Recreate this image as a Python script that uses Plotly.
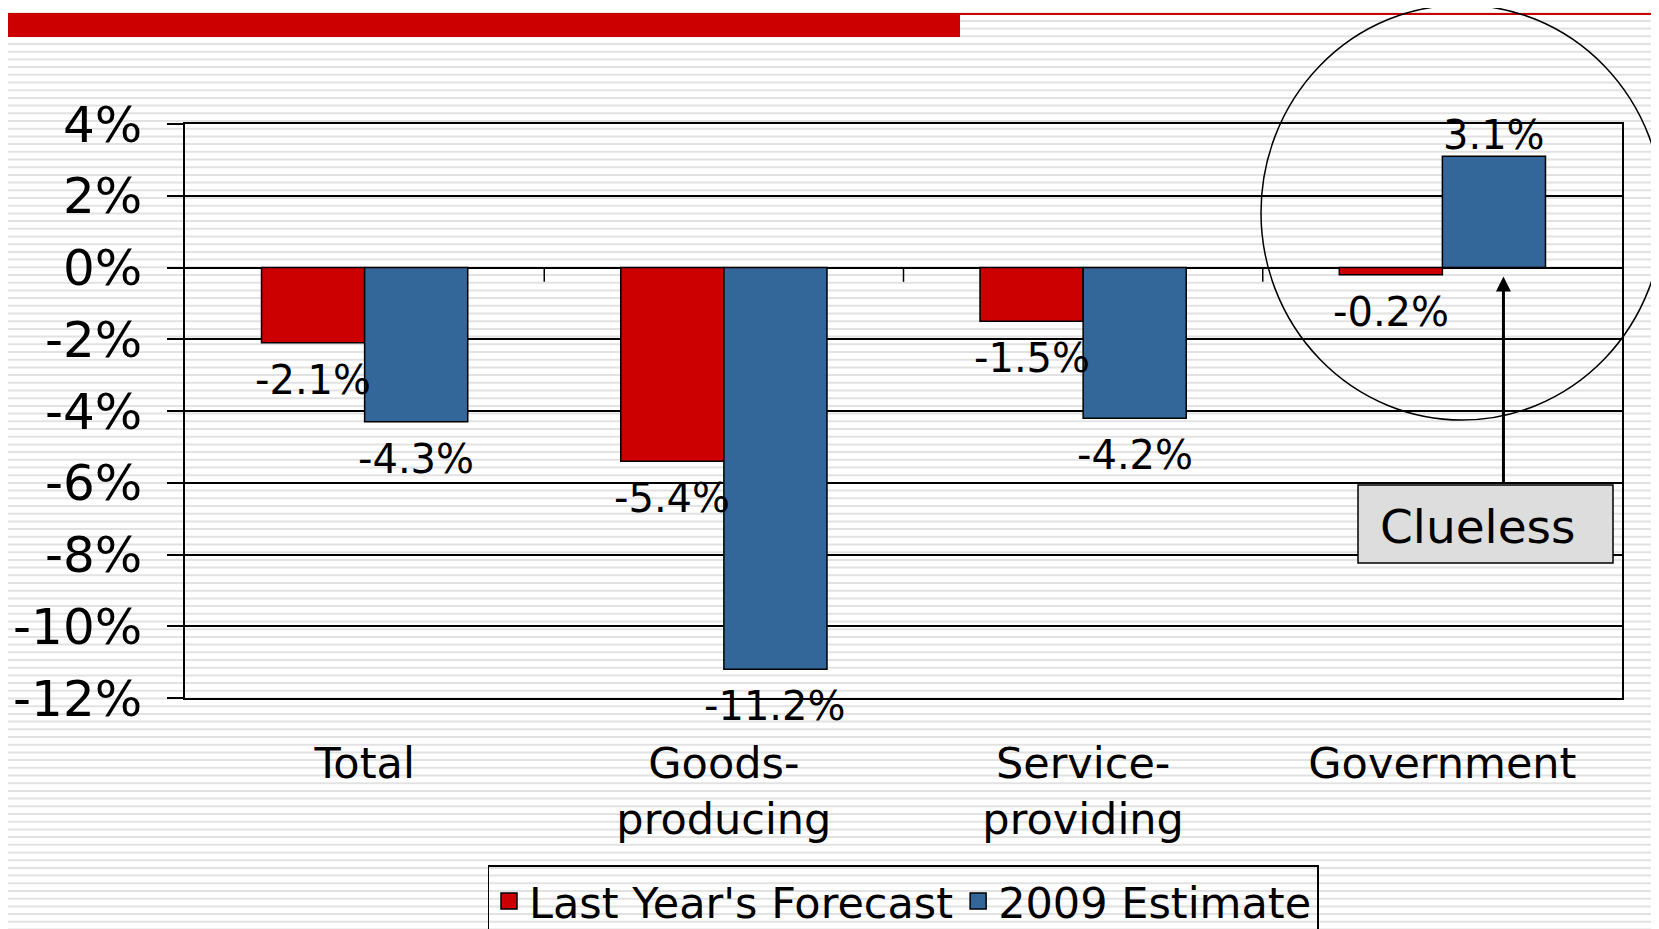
import plotly.graph_objects as go

# dados
categories = ["Total", "Goods-<br>producing", "Service-<br>providing", "Government"]
forecast = [-2.1, -5.4, -1.5, -0.2]      # Last Year's Forecast
estimate = [-4.3, -11.2, -4.2, 3.1]      # 2009 Estimate
series_names = ["Last Year's Forecast", "2009 Estimate"]
y_ticks = [4, 2, 0, -2, -4, -6, -8, -10, -12]

W, H = 1659, 929
OFS = 8  # margem do body da página html
L, R, T, B = 185 - OFS, 37 + OFS, 124 - OFS, 231 + OFS
PW, PH = W - L - R, H - T - B

RED = "#cc0000"
BLUE = "#336699"
FONT = "DejaVu Sans"

# converte pixel da página para coordenada 'paper'
def px_x(p):
    return (p - OFS - L) / PW

def px_y(p):
    return (H - B - (p - OFS)) / PH

x = list(range(len(categories)))
fig = go.Figure()
fig.add_trace(go.Bar(x=x, y=forecast, name=series_names[0], marker_color=RED,
                     marker_line=dict(color="black", width=1.5), showlegend=False))
fig.add_trace(go.Bar(x=x, y=estimate, name=series_names[1], marker_color=BLUE,
                     marker_line=dict(color="black", width=1.5), showlegend=False))
# itens de legenda com quadrados maiores
for name, color in zip(series_names, [RED, BLUE]):
    fig.add_trace(go.Scatter(x=[None], y=[None], mode="markers", name=name,
                             marker=dict(symbol="square", size=22, color=color,
                                         line=dict(color="black", width=1.5))))

shapes = []
# fundo listrado
k = 0
while True:
    yy = 5.5 + 7.7 * k
    if yy > H + 10:
        break
    shapes.append(dict(type="line", xref="paper", yref="paper", x0=px_x(-5), x1=px_x(W + 20),
                       y0=px_y(yy), y1=px_y(yy), line=dict(color="#e2e2e2", width=2), layer="below"))
    k += 1

# faixa vermelha no topo
shapes.append(dict(type="rect", xref="paper", yref="paper", x0=px_x(0), x1=px_x(960),
                   y0=px_y(37), y1=px_y(13), fillcolor=RED, line_width=0, layer="above"))
shapes.append(dict(type="line", xref="paper", yref="paper", x0=px_x(960), x1=px_x(1653),
                   y0=px_y(14), y1=px_y(14), line=dict(color=RED, width=2), layer="above"))

# marcas entre categorias na linha do zero
for b in [0.5, 1.5, 2.5]:
    shapes.append(dict(type="line", xref="x", yref="y", x0=b, x1=b, y0=0, y1=-0.4,
                       line=dict(color="black", width=1.5), layer="above"))

# círculo em volta de Government
shapes.append(dict(type="circle", xref="paper", yref="paper", x0=px_x(1261), x1=px_x(1663),
                   y0=px_y(420), y1=px_y(5), line=dict(color="black", width=1.5), layer="above"))

# caixa "Clueless"
shapes.append(dict(type="rect", xref="paper", yref="paper", x0=px_x(1358), x1=px_x(1613),
                   y0=px_y(563), y1=px_y(485), fillcolor="#dddddd",
                   line=dict(color="black", width=1.5), layer="above"))

annotations = []
off = 0.1435
for i in x:
    for val, dx in [(forecast[i], -off), (estimate[i], off)]:
        annotations.append(dict(x=i + dx, y=val, xref="x", yref="y", text=f"{val:.1f}%",
                                showarrow=False, yshift=-37 if val < 0 else 21,
                                font=dict(family=FONT, size=40, color="black")))

annotations.append(dict(x=3.17, y=-0.25, ax=3.17, ay=-6.05, xref="x", yref="y",
                        axref="x", ayref="y", text="", showarrow=True, arrowhead=2,
                        arrowsize=1, arrowwidth=3, arrowcolor="black"))
annotations.append(dict(x=px_x(1378), y=px_y(526), xref="paper", yref="paper",
                        xanchor="left", yanchor="middle", text="Clueless", showarrow=False,
                        font=dict(family=FONT, size=47, color="black")))

fig.update_layout(
    width=W, height=H,
    margin=dict(l=L, r=R, t=T, b=B, autoexpand=False),
    paper_bgcolor="white", plot_bgcolor="rgba(0,0,0,0)",
    barmode="group", bargap=0.426, bargroupgap=0,
    font=dict(family=FONT, size=42, color="black"),
    shapes=shapes, annotations=annotations,
    showlegend=True,
    legend=dict(orientation="h", x=px_x(903), xanchor="center", y=px_y(865), yanchor="top",
                bordercolor="black", borderwidth=1.5, bgcolor="rgba(255,255,255,0)",
                font=dict(family=FONT, size=43), itemsizing="trace", tracegroupgap=0),
)
fig.update_xaxes(range=[-0.5, 3.5], tickvals=x, ticktext=categories, ticks="",
                 showgrid=False, showline=True, linecolor="black", linewidth=1.5, mirror=True,
                 zeroline=False, tickfont=dict(family=FONT, size=43), ticklabelstandoff=27)
fig.update_yaxes(range=[-12, 4], tickvals=y_ticks, ticktext=[f"{v}%" for v in y_ticks],
                 ticks="outside", ticklen=16, tickcolor="black", tickwidth=1.5,
                 showgrid=True, gridcolor="black", gridwidth=1.5,
                 showline=True, linecolor="black", linewidth=1.5, mirror=True,
                 zeroline=False, tickfont=dict(family=FONT, size=50), ticklabelstandoff=15)

fig.write_html("out.html")
